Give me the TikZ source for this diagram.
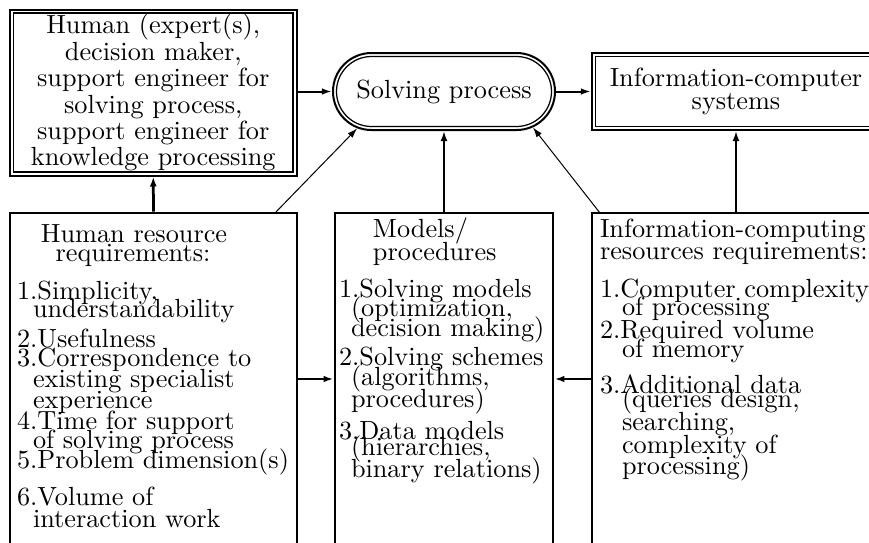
\documentclass[tikz,border=0pt]{standalone}
\usetikzlibrary{arrows.meta,shapes.misc}
\begin{document}
\begin{tikzpicture}[x=0.4pt,y=-0.4pt,
  font=\fontsize{10.5}{9}\selectfont,
  dbl/.style={draw, line width=0.8pt, inner sep=0pt, align=center},
  dblin/.style={draw, line width=0.5pt, inner sep=0pt},
  bbox/.style={draw, line width=1.1pt, inner sep=0pt},
  arr/.style={line width=0.8pt, -{Latex[length=4pt,width=2.6pt]}},
  arrthick/.style={line width=1.1pt, -{Latex[length=4pt,width=2.8pt]}},
  arrthin/.style={line width=0.4pt, -{Latex[length=4pt,width=2.6pt]}},
  ln/.style={anchor=base west, inner sep=0pt, outer sep=0pt},
  ctr/.style={anchor=base, inner sep=0pt, outer sep=0pt}]
\useasboundingbox (0,0) rectangle (869,542);
\clip (0,0) rectangle (869,542);

% top row
\node[dbl, rectangle, minimum width=114.6pt, minimum height=66.4pt,
      font=\fontsize{10.5}{9.15}\selectfont] (human) at (153.25,92.5)
  {Human (expert(s),\\decision maker,\\support engineer for\\solving process,\\support engineer for\\knowledge processing};
\node[dblin, rectangle, minimum width=111.8pt, minimum height=63.6pt] (humanin) at (153.25,92.5) {};

\node[dbl, rounded rectangle, minimum width=88.8pt, minimum height=30.8pt] (solving) at (444,91.5) {Solving process};
\node[dblin, rounded rectangle, minimum width=86pt, minimum height=28pt] (solvingin) at (444,91.5) {};

\node[dbl, rectangle, minimum width=115.2pt, minimum height=30.8pt,
      font=\fontsize{10.5}{9.2}\selectfont] (info) at (736,91.5) {Information-computer\\systems};
\node[dblin, rectangle, minimum width=112.4pt, minimum height=28pt] (infoin) at (736,91.5) {};

% bottom row
\node[bbox, rectangle, minimum width=114.8pt, minimum height=160pt] (lbox) at (153.5,413) {};
\node[bbox, rectangle, minimum width=87.2pt, minimum height=160pt] (mbox) at (444,413) {};
\node[bbox, rectangle, minimum width=115.2pt, minimum height=160pt] (rbox) at (736,413) {};

% connectors
\draw[arr] (human.east |- solving.west) -- (solving.west);
\draw[arr] (solving.east) -- (info.west);
\draw[arrthick] (lbox.north) -- (human.south);
\draw[arrthick] (mbox.north) -- (solving.south);
\draw[arrthick] (rbox.north) -- (info.south);
\coordinate (d1) at (275,213);
\coordinate (d2) at (600,213);
\draw[arrthin] (d1) -- (solving.203);
\draw[arrthin] (d2) -- (solving.338);
\coordinate (hy) at (0,379);
\draw[arr] (lbox.east |- hy) -- (mbox.west |- hy);
\draw[arr] (rbox.west |- hy) -- (mbox.east |- hy);

% left box text
\node[ctr] (lh1) at (134,242) {Human resource};
\node[ctr] (lh2) at (133,261) {requirements:};
\node[ln] (l1a) at (17,299) {1.Simplicity,};
\node[ln] (l1b) at (33,317) {understandability};
\node[ln] (l2) at (17,347) {2.Usefulness};
\node[ln] (l3a) at (17,366) {3.Correspondence to};
\node[ln] (l3b) at (33,387) {existing specialist};
\node[ln] (l3c) at (33,408) {experience};
\node[ln] (l4a) at (17,429) {4.Time for support};
\node[ln] (l4b) at (33,448) {of solving process};
\node[ln] (l5) at (17,468) {5.Problem dimension(s)};
\node[ln] (l6a) at (17,505) {6.Volume of};
\node[ln] (l6b) at (33,527) {interaction work};

% middle box text
\node[ln] (mh1) at (373,237) {Models/};
\node[ln] (mh2) at (373,260) {procedures};
\node[ln] (m1a) at (339,297) {1.Solving models};
\node[ln] (m1b) at (351,316) {(optimization,};
\node[ln] (m1c) at (351,336) {decision making)};
\node[ln] (m2a) at (339,365) {2.Solving schemes};
\node[ln] (m2b) at (351,385) {(algorithms,};
\node[ln] (m2c) at (351,407) {procedures)};
\node[ln] (m3a) at (339,439) {3.Data models};
\node[ln] (m3b) at (351,455) {(hierarchies,};
\node[ln] (m3c) at (351,477) {binary relations)};

% right box text
\node[ln] (rh1) at (600,237) {Information-computing};
\node[ln] (rh2) at (600,259) {resources requirements:};
\node[ln] (r1a) at (600,297) {1.Computer complexity};
\node[ln] (r1b) at (622,315) {of processing};
\node[ln] (r2a) at (600,338) {2.Required volume};
\node[ln] (r2b) at (622,357) {of memory};
\node[ln] (r3a) at (600,393) {3.Additional data};
\node[ln] (r3b) at (622,407) {(queries design,};
\node[ln] (r3c) at (622,430) {searching,};
\node[ln] (r3d) at (622,453) {complexity of};
\node[ln] (r3e) at (622,474) {processing)};
\end{tikzpicture}
\end{document}
